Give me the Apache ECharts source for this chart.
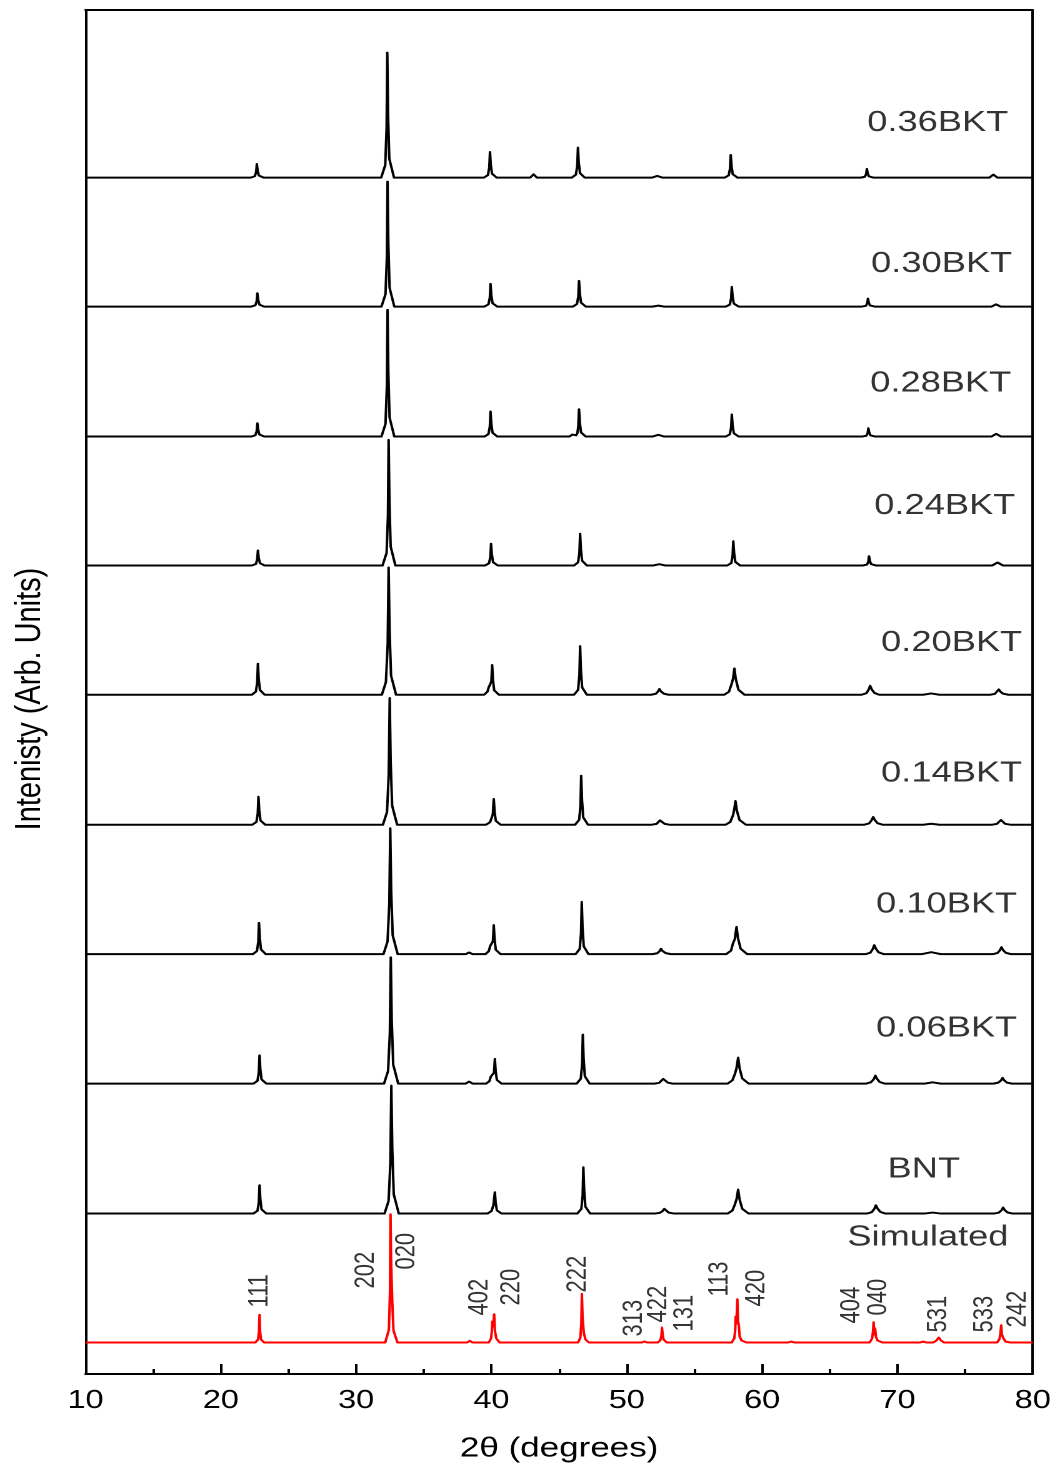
<!DOCTYPE html>
<html><head><meta charset="utf-8">
<script src="https://cdn.jsdelivr.net/npm/echarts@6/dist/echarts.min.js"></script>
<style>
html,body{margin:0;padding:0;background:#fff;overflow:hidden}
#wrap{width:1059px;height:1468px;overflow:hidden;position:relative}
#chart{width:847.2px;height:1468px;transform:scaleX(1.25);transform-origin:0 0}
</style></head><body><div id="wrap"><div id="chart"></div></div>
<script>
// ---- data: [2theta, intensity] vertices ----
const sampleNames = ['0.36BKT','0.30BKT','0.28BKT','0.24BKT','0.20BKT','0.14BKT','0.10BKT','0.06BKT','BNT','Simulated'];

const bkt036 = [[10,0],
 [22.21,0],[22.51,1.4],[22.61,5.5],[22.66,13.7],[22.72,6.9],[22.81,2.1],[23.16,0],
 [31.85,0],[32.15,12.5],[32.25,50],[32.3,125],[32.36,62.5],[32.45,18.8],[32.8,0],
 [39.44,0],[39.74,2.6],[39.84,10.3],[39.89,25.7],[39.95,12.9],[40.04,3.9],[40.39,0],
 [42.86,0],[43.11,3.3],[43.36,0],
 [45.94,0],[46.24,3],[46.34,12],[46.39,30],[46.45,15],[46.54,4.5],[46.89,0],
 [51.85,0],[52.25,1.7],[52.65,0],
 [57.23,0],[57.53,2.3],[57.63,9.1],[57.68,22.7],[57.74,11.4],[57.83,3.4],[58.18,0],
 [67.29,0],[67.59,0.9],[67.69,3.5],[67.74,8.7],[67.8,4.4],[67.89,1.3],[68.24,0],
 [76.79,0],[77.09,3],[77.39,0],
 [80,0]];

const bkt030 = [[10,0],
 [22.25,0],[22.55,1.3],[22.65,5.3],[22.7,13.3],[22.76,6.7],[22.85,2],[23.2,0],
 [31.87,0],[32.17,12.5],[32.27,50],[32.32,125],[32.38,62.5],[32.47,18.8],[32.82,0],
 [39.48,0],[39.78,2.3],[39.88,9.1],[39.93,22.7],[39.99,11.4],[40.08,3.4],[40.43,0],
 [46.02,0],[46.32,2.6],[46.42,10.3],[46.47,25.7],[46.53,12.9],[46.62,3.9],[46.97,0],
 [51.9,0],[52.33,1],[52.76,0],
 [57.31,0],[57.61,2],[57.71,7.9],[57.76,19.7],[57.82,9.9],[57.91,3],[58.26,0],
 [67.37,0],[67.67,0.8],[67.77,3.2],[67.82,8],[67.88,4],[67.97,1.2],[68.32,0],
 [76.95,0],[77.29,2.3],[77.63,0],
 [80,0]];

const bkt028 = [[10,0],
 [22.25,0],[22.55,1.3],[22.65,5.3],[22.7,13.3],[22.76,6.7],[22.85,2],[23.2,0],
 [31.87,0],[32.17,12.7],[32.27,50.7],[32.32,126.7],[32.38,63.4],[32.47,19],[32.82,0],
 [39.48,0],[39.78,2.5],[39.88,10],[39.93,25],[39.99,12.5],[40.08,3.8],[40.43,0],
 [45.75,0],[45.98,2],[46.25,1.2],[46.35,3.5],[46.42,10.9],[46.47,27.3],[46.53,13.7],[46.62,4.1],[46.97,0],
 [51.9,0],[52.33,1.7],[52.76,0],
 [57.31,0],[57.61,2.2],[57.71,8.8],[57.76,22],[57.82,11],[57.91,3.3],[58.26,0],
 [67.4,0],[67.7,0.8],[67.8,3.3],[67.85,8.3],[67.91,4.2],[68.0,1.2],[68.35,0],
 [76.95,0],[77.3,2.7],[77.65,0],
 [80,0]];

const bkt024 = [[10,0],
 [22.29,0],[22.59,1.5],[22.69,6],[22.74,15],[22.8,7.5],[22.89,2.3],[23.24,0],
 [31.95,0],[32.25,12.6],[32.35,50.3],[32.4,125.7],[32.46,62.9],[32.55,18.9],[32.9,0],
 [39.52,0],[39.82,2.2],[39.92,8.7],[39.97,21.7],[40.03,10.9],[40.12,3.3],[40.47,0],
 [46.1,0],[46.4,3.2],[46.5,12.7],[46.55,31.7],[46.61,15.9],[46.7,4.8],[47.05,0],
 [51.95,0],[52.4,1.3],[52.85,0],
 [57.42,0],[57.72,2.4],[57.82,9.7],[57.87,24.3],[57.93,12.2],[58.02,3.6],[58.37,0],
 [67.45,0],[67.75,0.9],[67.85,3.7],[67.9,9.3],[67.96,4.7],[68.05,1.4],[68.4,0],
 [77.0,0],[77.4,3],[77.8,0],
 [80,0]];

const bkt020 = [[10,0],
 [22.29,0],[22.59,3.1],[22.69,12.4],[22.74,31],[22.8,15.5],[22.89,4.7],[23.24,0],
 [31.9,0],[32.2,12.7],[32.33,50.9],[32.4,127.3],[32.47,63.7],[32.58,19.1],[32.95,0],
 [39.45,0],[39.7,3],[39.8,7.5],[39.9,8.5],[39.99,13],[40.05,29.7],[40.11,14.9],[40.2,4.5],[40.55,0],
 [46.1,0],[46.4,4.9],[46.5,19.5],[46.55,48.7],[46.61,24.4],[46.7,7.3],[47.05,0],
 [51.8,0],[52.15,1],[52.3,3.2],[52.41,5.7],[52.52,3.4],[52.75,1],[53.1,0],
 [57.2,0],[57.55,3],[57.75,11],[57.85,16],[57.95,26.3],[58.05,16],[58.25,5],[58.7,0],
 [67.35,0],[67.7,1.5],[67.87,5],[67.98,9],[68.1,5.4],[68.3,1.8],[68.65,0],
 [71.9,0],[72.5,1.3],[73.1,0],
 [76.85,0],[77.2,0.9],[77.37,2.9],[77.49,5.3],[77.6,3.2],[77.8,1.1],[78.2,0],
 [80,0]];

const bkt014 = [[10,0],
 [22.33,0],[22.63,2.8],[22.73,11.2],[22.78,28],[22.84,14],[22.93,4.2],[23.28,0],
 [31.98,0],[32.28,12.7],[32.41,50.7],[32.48,126.7],[32.55,63.4],[32.66,19],[33.03,0],
 [39.6,0],[39.9,2.6],[40.1,10.3],[40.17,25.7],[40.23,12.9],[40.32,3.9],[40.67,0],
 [46.18,0],[46.48,4.9],[46.58,19.6],[46.63,49],[46.69,24.5],[46.78,7.4],[47.13,0],
 [51.85,0],[52.2,0.8],[52.34,2.4],[52.45,4.3],[52.56,2.6],[52.8,0.8],[53.15,0],
 [57.3,0],[57.65,2.8],[57.85,9.5],[57.95,16],[58.03,23.7],[58.13,14.2],[58.33,4.7],[58.8,0],
 [67.55,0],[67.9,1.3],[68.08,4.2],[68.21,7.7],[68.33,4.6],[68.53,1.5],[68.9,0],
 [71.9,0],[72.5,1],[73.1,0],
 [77.0,0],[77.35,0.8],[77.53,2.6],[77.65,4.7],[77.76,2.8],[77.96,0.9],[78.35,0],
 [80,0]];

const bkt010 = [[10,0],
 [22.37,0],[22.67,3.1],[22.77,12.5],[22.82,31.3],[22.88,15.7],[22.97,4.7],[23.32,0],
 [32.02,0],[32.32,12.6],[32.45,50.4],[32.52,126],[32.59,63],[32.7,18.9],[33.07,0],
 [38.1,0],[38.35,1.7],[38.6,0],
 [39.55,0],[39.8,3],[39.9,8],[40.02,9],[40.11,13],[40.17,29],[40.23,14.5],[40.32,4.4],[40.67,0],
 [46.22,0],[46.52,5.2],[46.62,20.9],[46.67,52.3],[46.73,26.2],[46.82,7.8],[47.17,0],
 [51.9,0],[52.25,0.9],[52.42,3],[52.53,5.3],[52.64,3.2],[52.88,1],[53.25,0],
 [57.35,0],[57.7,3.5],[57.85,11],[57.98,15],[58.11,27.3],[58.21,16.4],[58.41,5.5],[58.9,0],
 [67.65,0],[68.0,1.5],[68.17,5],[68.29,9],[68.41,5.4],[68.61,1.8],[69.0,0],
 [71.8,0],[72.5,2],[73.2,0],
 [77.05,0],[77.4,1.2],[77.57,3.9],[77.69,7],[77.8,4.2],[78.0,1.4],[78.4,0],
 [80,0]];

const bkt006 = [[10,0],
 [22.41,0],[22.71,2.8],[22.81,11.3],[22.86,28.3],[22.92,14.2],[23.01,4.2],[23.36,0],
 [32.06,0],[32.36,12.6],[32.49,50.5],[32.56,126.3],[32.63,63.2],[32.74,18.9],[33.11,0],
 [38.1,0],[38.35,2],[38.6,0],
 [39.6,0],[39.85,2.5],[39.95,7],[40.1,8],[40.19,11],[40.25,24.7],[40.31,12.4],[40.4,3.7],[40.75,0],
 [46.3,0],[46.6,4.9],[46.7,19.6],[46.75,49],[46.81,24.5],[46.9,7.4],[47.25,0],
 [52.05,0],[52.4,0.8],[52.58,2.6],[52.69,4.7],[52.8,2.8],[53.04,0.9],[53.4,0],
 [57.45,0],[57.8,3.2],[58.0,10],[58.1,15],[58.23,26],[58.33,15.6],[58.53,5.2],[59.0,0],
 [67.7,0],[68.05,1.4],[68.25,4.4],[68.37,8],[68.49,4.8],[68.69,1.6],[69.05,0],
 [72.0,0],[72.6,1.3],[73.2,0],
 [77.1,0],[77.45,1],[77.65,3.1],[77.77,5.7],[77.88,3.4],[78.08,1.1],[78.45,0],
 [80,0]];

const bnt = [[10,0],
 [22.41,0],[22.71,2.8],[22.81,11.3],[22.86,28.3],[22.92,14.2],[23.01,4.2],[23.36,0],
 [32.1,0],[32.4,12.8],[32.53,51.2],[32.6,128],[32.67,64],[32.78,19.2],[33.15,0],
 [39.7,0],[40.0,2.5],[40.15,8.5],[40.25,21.3],[40.31,10.7],[40.4,3.2],[40.75,0],
 [46.34,0],[46.64,4.6],[46.74,18.5],[46.79,46.3],[46.85,23.2],[46.94,6.9],[47.29,0],
 [52.1,0],[52.45,0.8],[52.65,2.6],[52.77,4.7],[52.88,2.8],[53.1,0.9],[53.5,0],
 [57.45,0],[57.8,3],[58.0,9.5],[58.12,15],[58.23,24],[58.33,14.4],[58.53,4.8],[59.0,0],
 [67.75,0],[68.1,1.4],[68.29,4.6],[68.41,8.3],[68.53,5],[68.73,1.7],[69.1,0],
 [72.0,0],[72.6,1],[73.2,0],
 [77.15,0],[77.5,1],[77.69,3.3],[77.81,6],[77.92,3.6],[78.12,1.2],[78.5,0],
 [80,0]];

const simulated = [[10,0],[20,0],
 [22.55,0],[22.75,3],[22.82,11],[22.86,27.7],[22.9,11],[22.97,3],[23.2,0],[28,0],
 [32.15,0],[32.42,12.8],[32.5,51],[32.54,128.3],[32.58,84],[32.62,83],[32.67,40],[32.76,12],[33.05,0],[36,0],
 [38.2,0],[38.4,1.7],[38.6,0],
 [39.8,0],[39.97,4],[40.03,12],[40.06,21],[40.12,16],[40.2,28.3],[40.25,12],[40.3,10.7],[40.36,4],[40.6,0],[43,0],
 [46.4,0],[46.57,5],[46.64,19.5],[46.68,48.7],[46.73,25],[46.78,26],[46.83,9],[46.95,3],[47.2,0],[49,0],
 [51.1,0],[51.3,1],[51.5,0],
 [52.3,0],[52.49,2.5],[52.56,7],[52.6,15],[52.65,8],[52.72,3],[52.95,0],[55,0],
 [57.75,0],[57.94,4],[58.01,12],[58.05,26],[58.1,19],[58.17,43.3],[58.22,22],[58.28,16.7],[58.34,6],[58.48,2],[58.85,0],[60,0],
 [61.9,0],[62.15,1],[62.4,0],[65,0],
 [67.95,0],[68.12,4],[68.19,10],[68.24,20.3],[68.29,8],[68.35,14],[68.41,6],[68.53,2],[68.9,0],[70,0],
 [71.65,0],[71.9,1],[72.15,0],
 [72.65,0],[72.88,2],[73.05,5],[73.22,2],[73.45,0],[75.5,0],
 [77.37,0],[77.54,3.5],[77.61,9],[77.67,17.3],[77.72,8],[77.78,9.3],[77.84,4],[77.98,1],[78.35,0],
 [80,0]];

const hklNames = ['111','202','020','402','220','222','313','422','131','113','420','404','040','531','533','242'];
const xTickLabels = ['10','20','30','40','50','60','70','80'];

// ---- layout (pixel-like units on the value axis) ----
const patterns = [bkt036,bkt030,bkt028,bkt024,bkt020,bkt014,bkt010,bkt006,bnt,simulated];
const offsets = [1196.8,1067.8,937.8,808.8,679.5,549.5,420,290.5,160.5,31.5];
const nameAnchor = [[72.98,1251.5],[73.27,1110.5],[73.2,991],[73.5,868.5],[74.01,731.5],[74.01,600.5],[73.64,469.5],[73.64,345.5],[71.95,204.5],[72.25,136.5]];
const hklAnchor = [[22.9,66.5],[30.72,85.5],[33.75,104.5],[39.14,58.5],[41.5,68.5],[46.38,81.5],[50.55,37.5],[52.37,51.5],[54.29,42.5],[56.88,77.5],[59.61,67.5],[66.63,50.5],[68.62,58.5],[73.06,41.5],[76.46,41.5],[78.9,46.5]];

const FONT = "'Liberation Sans', Arial, Helvetica, sans-serif";
const series = patterns.map((p, i) => ({
  type: 'line', name: sampleNames[i], xAxisIndex: 0, yAxisIndex: 0,
  data: p.map(d => [d[0], d[1] + offsets[i]]),
  showSymbol: false, symbol: 'none', smooth: false, animation: false,
  lineStyle: { color: i === 9 ? '#ff0000' : '#000000', width: 2, join: 'round' },
  z: 3
}));
series.push({
  type: 'scatter', symbolSize: 0.01, animation: false, silent: true,
  itemStyle: { color: 'rgba(0,0,0,0)' },
  data: sampleNames.map((n, i) => ({ name: n, value: nameAnchor[i] })),
  label: { show: true, position: 'inside', formatter: '{b}', color: '#000', fontSize: 29, fontFamily: FONT,
    align: 'center', verticalAlign: 'middle' }, z: 5
});
series.push({
  type: 'scatter', symbolSize: 0.01, animation: false, silent: true,
  itemStyle: { color: 'rgba(0,0,0,0)' },
  data: hklNames.map((n, i) => ({ name: n, value: hklAnchor[i] })),
  label: { show: true, position: 'inside', formatter: '{b}', color: '#000', fontSize: 22, fontFamily: FONT,
    rotate: 90, align: 'left', verticalAlign: 'middle' }, z: 5
});

const chart = echarts.init(document.getElementById('chart'), null, { renderer: 'canvas', devicePixelRatio: 2 });
chart.setOption({
  backgroundColor: '#fff',
  animation: false,
  grid: { left: 68.4, right: 20.8, top: 10, bottom: 93.5 },
  xAxis: [{
    type: 'value', min: 10, max: 80, interval: 10, position: 'bottom',
    name: '2θ (degrees)', nameLocation: 'middle', nameGap: 61,
    nameTextStyle: { fontSize: 28, color: '#000', fontFamily: FONT },
    axisLine: { show: true, onZero: false, lineStyle: { color: '#000', width: 2 } },
    axisTick: { show: true, inside: true, length: 10, lineStyle: { color: '#000', width: 2 } },
    minorTick: { show: true, splitNumber: 2, length: 5, lineStyle: { color: '#000', width: 2 } },
    axisLabel: { fontSize: 26, color: '#000', fontFamily: FONT, margin: 14,
      formatter: v => xTickLabels[Math.round((v - 10) / 10)] },
    splitLine: { show: false }
  }, {
    type: 'value', min: 10, max: 80, position: 'top',
    axisLine: { show: true, onZero: false, lineStyle: { color: '#000', width: 2 } },
    axisTick: { show: false }, axisLabel: { show: false }, splitLine: { show: false }
  }],
  yAxis: [{
    type: 'value', min: 0, max: 1364.5, position: 'left',
    name: 'Intenisty (Arb. Units)', nameLocation: 'middle', nameGap: 30, nameRotate: 90,
    nameTextStyle: { fontSize: 29, color: '#000', fontFamily: FONT, padding: [0, 14, 0, 0] },
    axisLine: { show: true, onZero: false, lineStyle: { color: '#000', width: 2 } },
    axisTick: { show: false }, axisLabel: { show: false }, splitLine: { show: false }
  }, {
    type: 'value', min: 0, max: 1364.5, position: 'right',
    axisLine: { show: true, onZero: false, lineStyle: { color: '#000', width: 2 } },
    axisTick: { show: false }, axisLabel: { show: false }, splitLine: { show: false }
  }],
  series: series
});
</script></body></html>
